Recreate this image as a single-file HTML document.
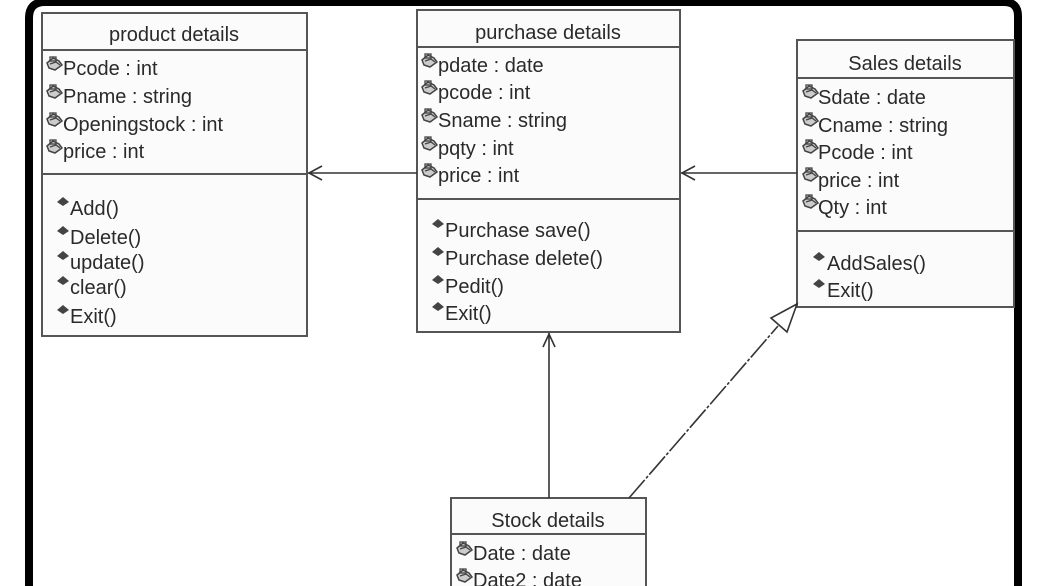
<!DOCTYPE html>
<html><head><meta charset="utf-8"><style>
html,body{margin:0;padding:0;background:#fff;width:1062px;height:586px;overflow:hidden}
svg text{font-family:"Liberation Sans",sans-serif;font-size:20px;fill:#2a2a2a}
</style></head><body>
<svg width="1062" height="586" viewBox="0 0 1062 586" xmlns="http://www.w3.org/2000/svg">
<defs>
<g id="ai"><path d="M1,6 L7,1 L13,4 L16,8 L9,13 L3,11 Z" fill="#ccc" stroke="#444" stroke-width="1.5"/><path d="M4,7 L10,5 L14,8" fill="none" stroke="#444" stroke-width="1.3"/><rect x="4" y="0" width="6" height="4" fill="none" stroke="#444" stroke-width="1.3"/></g>
<g id="mi"><path d="M0,5 L6,0 L12,5 L6,9 Z" fill="#444"/></g>
</defs>
<path d="M29,600 L29,18 Q29,2 45,2 L1004,2 Q1018,2 1018,16 L1018,600" fill="none" stroke="#000" stroke-width="8"/>

<g fill="#fbfbfb" stroke="#555" stroke-width="2">
<rect x="42" y="13" width="265" height="323"/>
<line x1="42" y1="50" x2="307" y2="50"/><line x1="42" y1="174" x2="307" y2="174"/>
<rect x="417" y="10" width="263" height="322"/>
<line x1="417" y1="47" x2="680" y2="47"/><line x1="417" y1="199" x2="680" y2="199"/>
<rect x="797" y="40" width="217" height="267"/>
<line x1="797" y1="78" x2="1014" y2="78"/><line x1="797" y1="231" x2="1014" y2="231"/>
<rect x="451" y="498" width="195" height="100"/>
<line x1="451" y1="534" x2="646" y2="534"/>
</g>

<text x="174" y="41" text-anchor="middle">product details</text>
<g><use href="#ai" x="46" y="57"/><text x="63" y="75">Pcode : int</text>
<use href="#ai" x="46" y="85"/><text x="63" y="103">Pname : string</text>
<use href="#ai" x="46" y="113"/><text x="63" y="131">Openingstock : int</text>
<use href="#ai" x="46" y="140"/><text x="63" y="158">price : int</text>
<use href="#mi" x="57" y="197"/><text x="70" y="215">Add()</text>
<use href="#mi" x="57" y="226"/><text x="70" y="244">Delete()</text>
<use href="#mi" x="57" y="251"/><text x="70" y="269">update()</text>
<use href="#mi" x="57" y="276"/><text x="70" y="294">clear()</text>
<use href="#mi" x="57" y="305"/><text x="70" y="323">Exit()</text></g>

<text x="548" y="39" text-anchor="middle">purchase details</text>
<use href="#ai" x="421" y="54"/><text x="438" y="72">pdate : date</text>
<use href="#ai" x="421" y="81"/><text x="438" y="99">pcode : int</text>
<use href="#ai" x="421" y="109"/><text x="438" y="127">Sname : string</text>
<use href="#ai" x="421" y="137"/><text x="438" y="155">pqty : int</text>
<use href="#ai" x="421" y="164"/><text x="438" y="182">price : int</text>
<use href="#mi" x="432" y="219"/><text x="445" y="237">Purchase save()</text>
<use href="#mi" x="432" y="247"/><text x="445" y="265">Purchase delete()</text>
<use href="#mi" x="432" y="275"/><text x="445" y="293">Pedit()</text>
<use href="#mi" x="432" y="302"/><text x="445" y="320">Exit()</text>

<text x="905" y="70" text-anchor="middle">Sales details</text>
<use href="#ai" x="802" y="85"/><text x="818" y="104">Sdate : date</text>
<use href="#ai" x="802" y="113"/><text x="818" y="132">Cname : string</text>
<use href="#ai" x="802" y="140"/><text x="818" y="159">Pcode : int</text>
<use href="#ai" x="802" y="168"/><text x="818" y="187">price : int</text>
<use href="#ai" x="802" y="195"/><text x="818" y="214">Qty : int</text>
<use href="#mi" x="813" y="252"/><text x="827" y="270">AddSales()</text>
<use href="#mi" x="813" y="279"/><text x="827" y="297">Exit()</text>

<text x="548" y="527" text-anchor="middle">Stock details</text>
<use href="#ai" x="456" y="542"/><text x="473" y="560">Date : date</text>
<use href="#ai" x="456" y="569"/><text x="473" y="587">Date2 : date</text>

<g stroke="#333" stroke-width="1.6" fill="none">
<line x1="417" y1="173" x2="308" y2="173"/><path d="M322,166 L309,173 L322,180"/>
<line x1="797" y1="173" x2="681" y2="173"/><path d="M695,166 L682,173 L695,180"/>
<line x1="549" y1="498" x2="549" y2="333"/><path d="M543,347 L549,334 L555,347"/>
<line x1="629" y1="498" x2="778" y2="326" stroke-dasharray="24,2,3,2"/>
<path d="M797,304 L771,318 L787,332 Z" fill="#fff"/>
</g>
</svg>
</body></html>
